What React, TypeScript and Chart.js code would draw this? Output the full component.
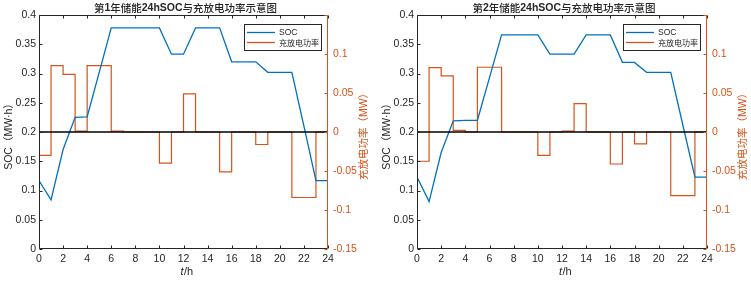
import React, { useEffect, useRef } from "react";
import { Chart, registerables } from "chart.js";

Chart.register(...registerables);

// ---------- data ----------
const hours = [0, 1, 2, 3, 4, 5, 6, 7, 8, 9, 10, 11, 12, 13, 14, 15, 16, 17, 18, 19, 20, 21, 22, 23, 24];

const chartTitles = ["第1年储能24hSOC与充放电功率示意图", "第2年储能24hSOC与充放电功率示意图"];

// SOC (MW·h) at each hour
const socYear1 = [0.117, 0.084, 0.170, 0.225, 0.226, 0.302, 0.378, 0.378, 0.378, 0.378, 0.378, 0.333, 0.333, 0.378, 0.378, 0.378, 0.320, 0.320, 0.320, 0.302, 0.302, 0.302, 0.210, 0.117, 0.117];
const socYear2 = [0.123, 0.081, 0.165, 0.219, 0.220, 0.220, 0.293, 0.366, 0.366, 0.366, 0.366, 0.333, 0.333, 0.333, 0.366, 0.366, 0.366, 0.319, 0.319, 0.302, 0.302, 0.302, 0.212, 0.123, 0.123];

// charge/discharge power (MW), value held from hour i to i+1 (last repeats)
const powerYear1 = [-0.030, 0.085, 0.074, 0.001, 0.085, 0.085, 0.001, 0, 0, 0, -0.040, 0, 0.049, 0, 0, -0.051, 0, 0, -0.016, 0, 0, -0.084, -0.084, 0, 0];
const powerYear2 = [-0.0375, 0.0826, 0.072, 0.002, 0, 0.083, 0.083, 0, 0, 0, -0.030, 0, 0.001, 0.0365, 0, 0, -0.041, 0, -0.0153, 0, 0, -0.0815, -0.0815, 0, 0];

// reference zero line of the power axis
const zeroLineX = [0, 24];
const zeroLineY = [0, 0];

const legendLabels = ["SOC", "充放电功率"];
const leftAxisTitle = "SOC（MW·h）";
const rightAxisTitle = "充放电功率（MW）";
const xAxisTitleItalic = "t";
const xAxisTitleRest = "/h";

const socRange = [0, 0.4];
const powerRange = [-0.15, 0.15];
const hourRange = [0, 24];

// ---------- style ----------
const BLUE = "#0072BD";
const ORANGE = "#D95319";
const DARK = "#262626";
const FONT = "'Liberation Sans', Arial, 'Noto Sans CJK SC', sans-serif";
const CJK = "'Noto Sans CJK SC', 'Liberation Sans', sans-serif";

const fmt = (v: number) => String(Number(Number(v).toFixed(4)));

function drawMixedTitle(ctx: CanvasRenderingContext2D, text: string, cx: number, cy: number) {
  const runs = text.match(/[\x00-\x7F]+|[^\x00-\x7F]+/g) || [];
  const fontFor = (r: string) => (/^[\x00-\x7F]+$/.test(r) ? `bold 10.5px ${FONT}` : `500 10.5px ${CJK}`);
  let total = 0;
  const widths = runs.map((r) => {
    ctx.font = fontFor(r);
    const w = ctx.measureText(r).width;
    total += w;
    return w;
  });
  let x = cx - total / 2;
  ctx.textAlign = "left";
  ctx.textBaseline = "middle";
  runs.forEach((r, i) => {
    ctx.font = fontFor(r);
    ctx.fillText(r, x, cy);
    x += widths[i];
  });
}

function makeDecor(title: string) {
  return {
    id: "decor",
    afterDatasetsDraw(chart: any) {
      const ctx = chart.ctx as CanvasRenderingContext2D;
      const a = chart.chartArea;
      const xs = chart.scales.x;
      const yl = chart.scales.y;
      const yr = chart.scales.y1;
      const L = Math.round(a.left) + 0.5;
      const R = Math.round(a.right) - 0.5;
      const T = Math.round(a.top) + 0.5;
      const B = Math.round(a.bottom) - 0.5;
      ctx.save();
      ctx.lineWidth = 1;
      // box (black part)
      ctx.strokeStyle = DARK;
      ctx.beginPath();
      ctx.moveTo(R, T);
      ctx.lineTo(L, T);
      ctx.lineTo(L, B);
      ctx.lineTo(R, B);
      for (const t of xs.ticks) {
        const px = Math.round(xs.getPixelForValue(t.value)) + 0.5;
        ctx.moveTo(px, B);
        ctx.lineTo(px, B - 3);
        ctx.moveTo(px, T);
        ctx.lineTo(px, T + 3);
      }
      for (const t of yl.ticks) {
        const py = Math.round(yl.getPixelForValue(t.value)) + 0.5;
        ctx.moveTo(L, py);
        ctx.lineTo(L + 3, py);
      }
      ctx.stroke();
      // right axis (orange)
      ctx.strokeStyle = ORANGE;
      ctx.beginPath();
      ctx.moveTo(R, T);
      ctx.lineTo(R, B);
      for (const t of yr.ticks) {
        const py = Math.round(yr.getPixelForValue(t.value)) + 0.5;
        ctx.moveTo(R, py);
        ctx.lineTo(R - 3, py);
      }
      ctx.stroke();

      // legend
      const lw = 77;
      const lh = 26;
      const lx = Math.round(a.right) - 7 - lw;
      const ly = Math.round(a.top) + 9;
      ctx.fillStyle = "#fff";
      ctx.fillRect(lx, ly, lw, lh);
      ctx.strokeStyle = DARK;
      ctx.lineWidth = 1;
      ctx.strokeRect(lx + 0.5, ly + 0.5, lw, lh);
      const colors = [BLUE, ORANGE];
      ctx.textBaseline = "middle";
      ctx.textAlign = "left";
      legendLabels.forEach((lab, i) => {
        const yy = ly + 8.5 + i * 10;
        ctx.strokeStyle = colors[i];
        ctx.lineWidth = 1.3;
        ctx.beginPath();
        ctx.moveTo(lx + 3, yy);
        ctx.lineTo(lx + 31, yy);
        ctx.stroke();
        ctx.fillStyle = DARK;
        ctx.font = /^[\x00-\x7F]+$/.test(lab) ? `8.5px ${FONT}` : `8px ${CJK}`;
        ctx.fillText(lab, lx + 35, yy);
      });

      // chart title
      ctx.fillStyle = DARK;
      drawMixedTitle(ctx, title, (a.left + a.right) / 2 + 2, 8.5);

      // x axis title
      ctx.font = `italic 11px ${FONT}`;
      const w1 = ctx.measureText(xAxisTitleItalic).width;
      ctx.font = `11px ${FONT}`;
      const w2 = ctx.measureText(xAxisTitleRest).width;
      const cx = (a.left + a.right) / 2 + 3;
      const x0 = cx - (w1 + w2) / 2;
      ctx.textAlign = "left";
      ctx.textBaseline = "middle";
      ctx.font = `italic 11px ${FONT}`;
      ctx.fillText(xAxisTitleItalic, x0, 272);
      ctx.font = `11px ${FONT}`;
      ctx.fillText(xAxisTitleRest, x0 + w1 + 0.5, 272);

      // y axis titles (both rotated counter-clockwise)
      const cy = (a.top + a.bottom) / 2 + 2;
      ctx.textAlign = "center";
      ctx.font = `10.5px ${FONT}`;
      ctx.save();
      ctx.translate(a.left - 29.5, cy);
      ctx.rotate(-Math.PI / 2);
      ctx.fillStyle = DARK;
      ctx.fillText(leftAxisTitle, 0, 0);
      ctx.restore();
      ctx.save();
      ctx.translate(a.right + 36, cy);
      ctx.rotate(-Math.PI / 2);
      ctx.fillStyle = ORANGE;
      ctx.fillText(rightAxisTitle, 0, 0);
      ctx.restore();

      ctx.restore();
    },
  };
}

function SocChart(props: { title: string; soc: number[]; power: number[]; leftW: number; rightW: number; width: number }) {
  const ref = useRef<HTMLCanvasElement | null>(null);
  useEffect(() => {
    if (!ref.current) return;
    const tickFont = { family: FONT, size: 10.5 };
    const chart = new Chart(ref.current, {
      type: "line",
      data: {
        datasets: [
          {
            label: "zero",
            data: zeroLineX.map((x, i) => ({ x, y: zeroLineY[i] })),
            yAxisID: "y1",
            borderColor: "#000",
            borderWidth: 1.4,
            pointRadius: 0,
          },
          {
            label: legendLabels[0],
            data: hours.map((h, i) => ({ x: h, y: props.soc[i] })),
            yAxisID: "y",
            borderColor: BLUE,
            borderWidth: 1.3,
            pointRadius: 0,
            tension: 0,
          },
          {
            label: legendLabels[1],
            data: hours.map((h, i) => ({ x: h, y: props.power[i] })),
            yAxisID: "y1",
            borderColor: ORANGE,
            borderWidth: 1.2,
            pointRadius: 0,
            stepped: "before",
          },
        ],
      } as any,
      options: {
        responsive: false,
        animation: false,
        events: [],
        layout: { padding: { top: 15, left: 0, right: 0, bottom: 0 } },
        plugins: { legend: { display: false }, tooltip: { enabled: false }, title: { display: false } },
        scales: {
          x: {
            type: "linear",
            position: "bottom",
            min: hourRange[0],
            max: hourRange[1],
            ticks: { stepSize: 2, color: DARK, font: tickFont, padding: 4, maxRotation: 0, autoSkip: false, callback: (v: any) => fmt(v) },
            grid: { display: false, drawTicks: false },
            border: { display: false },
            afterFit: (s: any) => { s.height = 33; },
          },
          y: {
            type: "linear",
            position: "left",
            min: socRange[0],
            max: socRange[1],
            ticks: { stepSize: 0.05, color: DARK, font: tickFont, padding: 3, callback: (v: any) => fmt(v) },
            grid: { display: false, drawTicks: false },
            border: { display: false },
            afterFit: (s: any) => { s.width = props.leftW; },
          },
          y1: {
            type: "linear",
            position: "right",
            min: powerRange[0],
            max: powerRange[1],
            ticks: {
              stepSize: 0.05,
              color: ORANGE,
              font: tickFont,
              padding: 5,
              callback: (v: any) => (Math.abs(v - powerRange[1]) < 1e-9 ? "" : fmt(v)),
            },
            grid: { display: false, drawTicks: false },
            border: { display: false },
            afterFit: (s: any) => { s.width = props.rightW; },
          },
        },
      } as any,
      plugins: [makeDecor(props.title)],
    });
    return () => chart.destroy();
  }, []);
  return <canvas ref={ref} width={props.width} height={282} style={{ display: "block", width: props.width, height: 282 }} />;
}

export default function App() {
  return (
    <div style={{ position: "absolute", left: 0, top: 0, width: 751, height: 282, display: "flex", background: "#fff" }}>
      <SocChart title={chartTitles[0]} soc={socYear1} power={powerYear1} leftW={39} rightW={47} width={375} />
      <SocChart title={chartTitles[1]} soc={socYear2} power={powerYear2} leftW={42} rightW={44} width={376} />
    </div>
  );
}
